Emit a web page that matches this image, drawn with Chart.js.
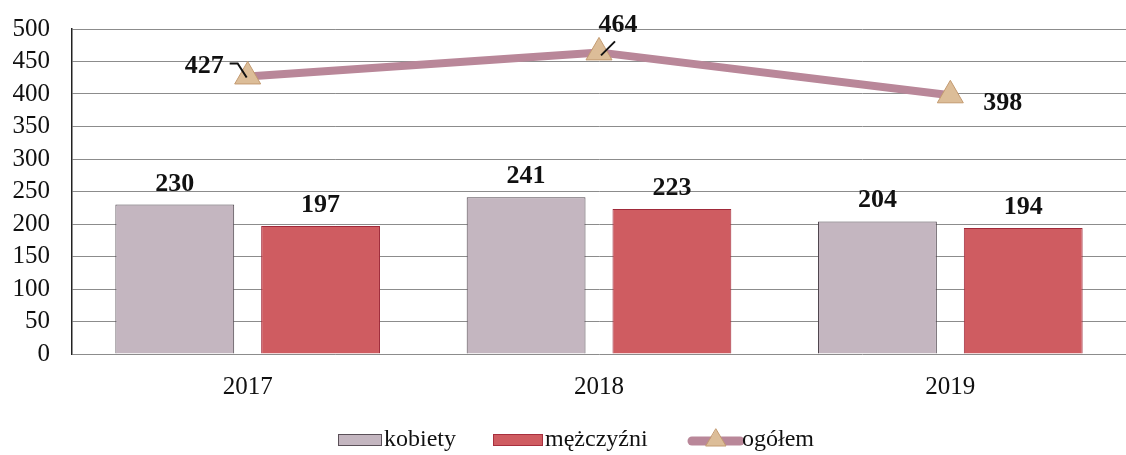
<!DOCTYPE html>
<html lang="pl">
<head>
  <meta charset="UTF-8" />
  <title>Kobiety, mężczyźni, ogółem 2017–2019</title>
  <script src="https://cdn.jsdelivr.net/npm/chart.js@4/dist/chart.umd.min.js"></script>
  <style>
    html, body {
      margin: 0;
      padding: 0;
      background: #ffffff;
      overflow: hidden;
    }
    .chart-box {
      width: 1126px;
      height: 455px;
      position: relative;
    }
    canvas { display: block; }
  </style>
</head>
<body>
  <div class="chart-box">
    <canvas id="chart"></canvas>
  </div>

  <script>
    const years = ['2017', '2018', '2019'];
    const kobiety = [230, 241, 204];
    const mezczyzni = [197, 223, 194];
    const ogolem = [427, 464, 398];
    const yTicks = [0, 50, 100, 150, 200, 250, 300, 350, 400, 450, 500];

    // where each "ogółem" value label sits relative to its marker
    const ogolemLabelSide = ['left', 'top', 'right'];

    const SERIF = '"Liberation Serif", "Times New Roman", serif';
    const LINE_COLOR = '#b98799';
    const TRI_FILL = '#dcbd98';
    const TRI_EDGE = '#c39a70';

    // value labels above the bars and next to the line markers
    const valueLabels = {
      id: 'valueLabels',
      afterDatasetsDraw(chart) {
        const ctx = chart.ctx;
        ctx.save();
        ctx.fillStyle = '#111';
        ctx.font = 'bold 26px ' + SERIF;
        ctx.textAlign = 'center';
        ctx.textBaseline = 'alphabetic';
        [0, 1].forEach(di => {
          chart.getDatasetMeta(di).data.forEach((bar, i) => {
            const v = chart.data.datasets[di].data[i];
            ctx.fillText(String(v), bar.x, bar.y - 14);
          });
        });

        const meta = chart.getDatasetMeta(2);
        ctx.strokeStyle = '#111';
        ctx.lineWidth = 2;
        meta.data.forEach((pt, i) => {
          const v = String(ogolem[i]);
          const side = ogolemLabelSide[i];
          ctx.textBaseline = 'middle';
          if (side === 'left') {
            ctx.textAlign = 'right';
            ctx.fillText(v, pt.x - 24, pt.y - 10);
            ctx.beginPath();
            ctx.moveTo(pt.x - 18, pt.y - 13);
            ctx.lineTo(pt.x - 10, pt.y - 13);
            ctx.lineTo(pt.x - 1, pt.y + 1);
            ctx.stroke();
          } else if (side === 'top') {
            ctx.textAlign = 'center';
            ctx.fillText(v, pt.x + 19, pt.y - 27);
            ctx.beginPath();
            ctx.moveTo(pt.x + 16, pt.y - 11);
            ctx.lineTo(pt.x + 2, pt.y + 3);
            ctx.stroke();
          } else {
            ctx.textAlign = 'left';
            ctx.fillText(v, pt.x + 33, pt.y + 8);
          }
        });
        ctx.restore();
      }
    };

    // legend row under the year labels
    const bottomLegend = {
      id: 'bottomLegend',
      afterDraw(chart) {
        const ctx = chart.ctx;
        const y = 440;
        ctx.save();
        ctx.font = '24px ' + SERIF;
        ctx.textBaseline = 'middle';
        ctx.textAlign = 'left';

        // kobiety
        ctx.fillStyle = '#c4b6c0';
        ctx.fillRect(338, y - 6, 44, 12);
        ctx.strokeStyle = '#5a5058';
        ctx.lineWidth = 1;
        ctx.strokeRect(338.5, y - 5.5, 43, 11);
        ctx.fillStyle = '#111';
        ctx.fillText('kobiety', 384, y);

        // mężczyźni
        ctx.fillStyle = '#cf5c61';
        ctx.fillRect(493, y - 6, 50, 12);
        ctx.strokeStyle = '#a8303e';
        ctx.strokeRect(493.5, y - 5.5, 49, 11);
        ctx.fillStyle = '#111';
        ctx.fillText('mężczyźni', 545, y);

        // ogółem
        ctx.strokeStyle = LINE_COLOR;
        ctx.lineWidth = 9;
        ctx.lineCap = 'round';
        ctx.beginPath();
        ctx.moveTo(692, y + 1);
        ctx.lineTo(740, y + 1);
        ctx.stroke();
        ctx.fillStyle = TRI_FILL;
        ctx.strokeStyle = TRI_EDGE;
        ctx.lineWidth = 1;
        ctx.beginPath();
        ctx.moveTo(716, y - 11);
        ctx.lineTo(726, y + 6);
        ctx.lineTo(706, y + 6);
        ctx.closePath();
        ctx.fill();
        ctx.stroke();
        ctx.fillStyle = '#111';
        ctx.fillText('ogółem', 742, y);
        ctx.restore();
      }
    };

    new Chart(document.getElementById('chart'), {
      type: 'bar',
      data: {
        labels: years,
        datasets: [
          {
            label: 'kobiety',
            data: kobiety,
            backgroundColor: '#c4b6c0',
            borderColor: '#4e444c',
            borderWidth: 1,
            categoryPercentage: 0.83,
            barPercentage: 0.815,
            order: 2
          },
          {
            label: 'mężczyźni',
            data: mezczyzni,
            backgroundColor: '#cf5c61',
            borderColor: '#a02a3a',
            borderWidth: 1,
            categoryPercentage: 0.83,
            barPercentage: 0.815,
            order: 2
          },
          {
            type: 'line',
            label: 'ogółem',
            data: ogolem,
            borderColor: LINE_COLOR,
            borderWidth: 8,
            pointStyle: 'triangle',
            pointRadius: 15,
            pointBackgroundColor: TRI_FILL,
            pointBorderColor: TRI_EDGE,
            pointBorderWidth: 1,
            tension: 0,
            order: 1
          }
        ]
      },
      options: {
        responsive: true,
        maintainAspectRatio: false,
        animation: false,
        layout: {
          autoPadding: false,
          padding: { top: 29, left: 12, right: 0, bottom: 41 }
        },
        plugins: {
          legend: { display: false },
          tooltip: { enabled: false }
        },
        scales: {
          x: {
            afterFit: axis => {
              axis.height = 60;
              axis.paddingLeft = 0;
              axis.paddingRight = 0;
            },
            grid: { display: false },
            border: { display: false },
            ticks: {
              color: '#111',
              padding: 10,
              font: { family: SERIF, size: 25 }
            }
          },
          y: {
            min: 0,
            max: 500,
            afterFit: axis => {
              axis.width = 60;
              axis.paddingTop = 0;
              axis.paddingBottom = 0;
            },
            afterBuildTicks: axis => {
              axis.ticks = yTicks.map(v => ({ value: v }));
            },
            grid: {
              color: '#8c8c8c',
              lineWidth: 1,
              drawTicks: false
            },
            border: { display: true, color: '#222', width: 1.5 },
            ticks: {
              color: '#111',
              padding: 22,
              autoSkip: false,
              font: { family: SERIF, size: 25 }
            }
          }
        }
      },
      plugins: [valueLabels, bottomLegend]
    });
  </script>
</body>
</html>
